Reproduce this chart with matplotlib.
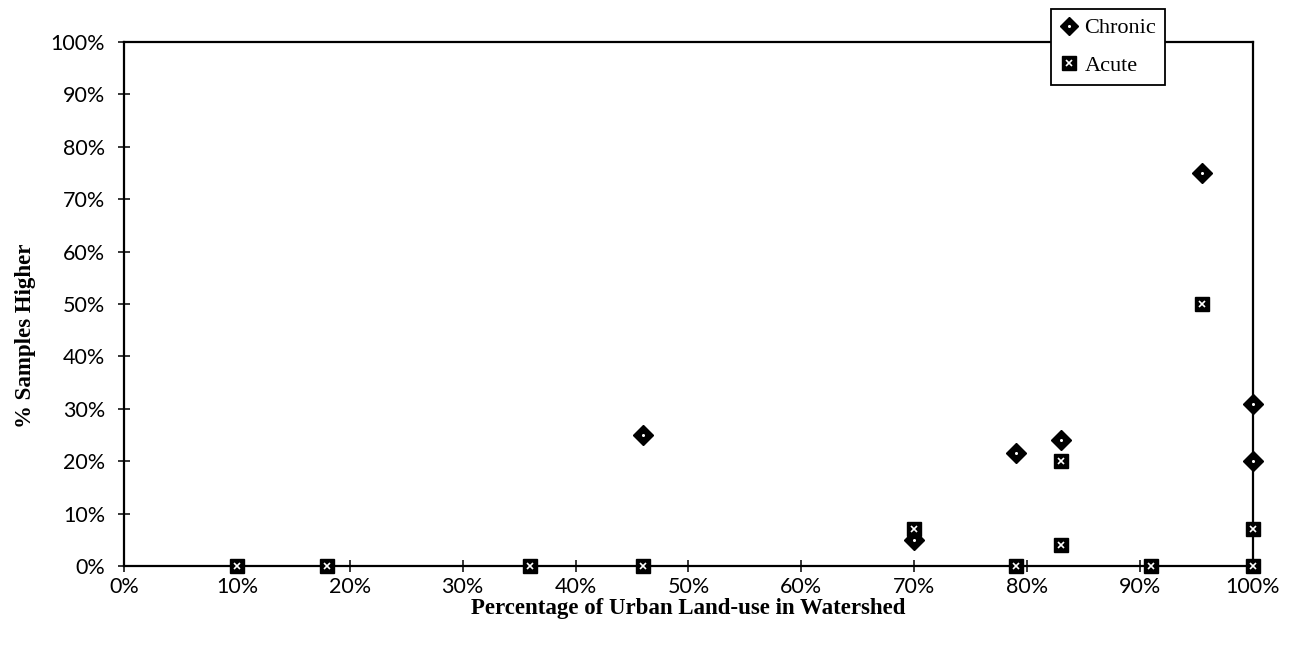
import matplotlib
matplotlib.use("Agg")
import matplotlib.pyplot as plt
from matplotlib.lines import Line2D
from matplotlib.ticker import PercentFormatter, MultipleLocator

# values (percent)
chronic_x = [46, 70, 79, 83, 95.5, 100, 100]
chronic_y = [25, 5, 21.5, 24, 75, 31, 20]
acute_x = [10, 18, 36, 46, 70, 79, 83, 83, 91, 95.5, 100, 100]
acute_y = [0, 0, 0, 0, 7, 0, 20, 4, 0, 50, 7, 0]

x_label = "Percentage of Urban Land-use in Watershed"
y_label = "% Samples Higher"
series_names = ["Chronic", "Acute"]

SERIF = "Liberation Serif"
TICKFONT = "Lato"

fig = plt.figure(figsize=(12.94, 6.47), dpi=100)
ax = fig.add_axes([0.0958, 0.125, 0.8725, 0.81])

# diamonds with a white dot, squares with a white speckle
ax.plot(chronic_x, chronic_y, ls="none", marker="D", ms=10,
        mfc="black", mec="black", clip_on=False, zorder=3)
ax.plot(chronic_x, chronic_y, ls="none", marker="o", ms=2.2,
        mfc="white", mec="none", clip_on=False, zorder=4)
ax.plot(acute_x, acute_y, ls="none", marker="s", ms=10.5,
        mfc="black", mec="black", clip_on=False, zorder=5)
ax.plot(acute_x, acute_y, ls="none", marker="x", ms=4.5, mew=1.2,
        color="white", clip_on=False, zorder=6)

ax.set_xlim(0, 100)
ax.set_ylim(0, 100)
ax.xaxis.set_major_locator(MultipleLocator(10))
ax.yaxis.set_major_locator(MultipleLocator(10))
ax.xaxis.set_major_formatter(PercentFormatter(100, decimals=0))
ax.yaxis.set_major_formatter(PercentFormatter(100, decimals=0))

for s in ax.spines.values():
    s.set_linewidth(1.6)
    s.set_color("black")
ax.tick_params(direction="inout", length=9, width=1.1, labelsize=15.5)
ax.tick_params(axis="x", pad=3)
ax.tick_params(axis="y", pad=9)
for lab in ax.get_xticklabels() + ax.get_yticklabels():
    lab.set_fontfamily(TICKFONT)

ax.set_xlabel(x_label, family=SERIF, fontweight="bold", fontsize=16.5,
              labelpad=1)
ax.set_ylabel(y_label, family=SERIF, fontweight="bold", fontsize=16.5)
ax.yaxis.set_label_coords(-0.078, 0.44)

h_chronic = (Line2D([], [], ls="none", marker="D", ms=9, mfc="black", mec="black"),
             Line2D([], [], ls="none", marker="o", ms=2.2, mfc="white", mec="none"))
h_acute = (Line2D([], [], ls="none", marker="s", ms=10, mfc="black", mec="black"),
           Line2D([], [], ls="none", marker="x", ms=4.5, mew=1.2, color="white"))
leg = fig.legend([h_chronic, h_acute], series_names, loc="upper left",
                 bbox_to_anchor=(1051 / 1294, 1 - 9 / 647),
                 prop={"family": SERIF, "size": 16}, frameon=True,
                 fancybox=False, edgecolor="black", framealpha=1,
                 handlelength=0.8, handletextpad=0.3, borderpad=0.4,
                 labelspacing=0.75, borderaxespad=0)
leg.get_frame().set_linewidth(1.3)
leg.set_zorder(10)

fig.savefig("out.png", dpi=100)
